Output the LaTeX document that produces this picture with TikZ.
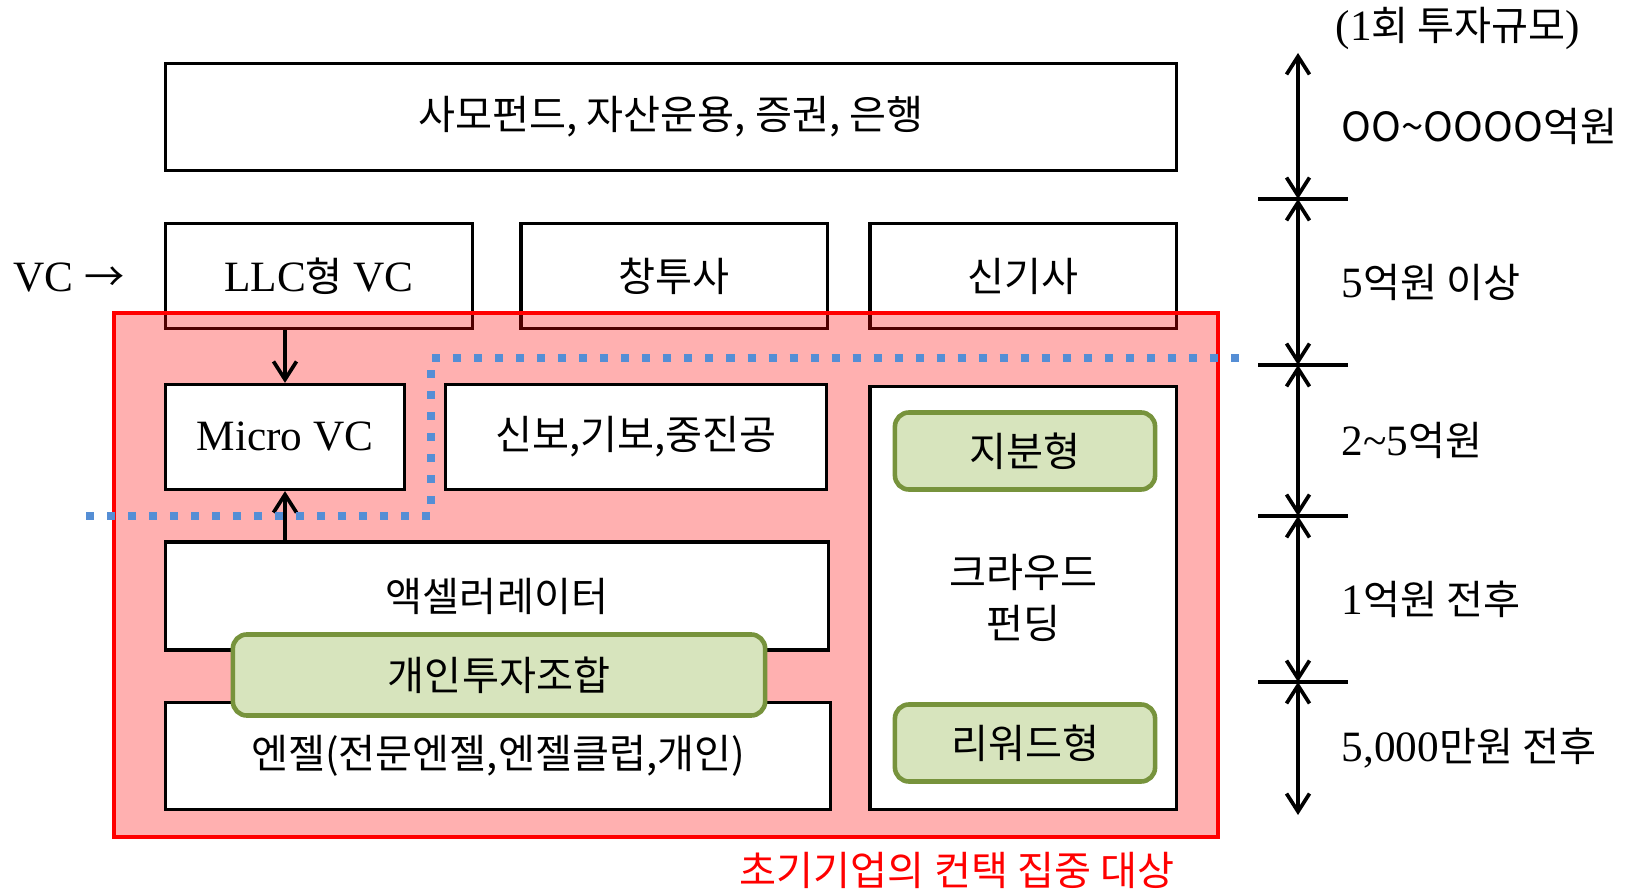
\documentclass[tikz,border=0pt]{standalone}
\usepackage{fontspec}
\setmainfont{Liberation Serif}
\newfontfamily\kr{Noto Sans CJK KR}[Scale=0.93]
\usetikzlibrary{arrows.meta}
\definecolor{leaf}{HTML}{77933C}
\definecolor{leaffill}{HTML}{D7E4BD}
\definecolor{cutblue}{HTML}{558ED5}

\begin{document}
\begin{tikzpicture}[x=0.01cm, y=-0.01cm, >={Straight Barb[length=1.8mm,width=2.3mm]},
  font=\fontsize{12.3}{14}\selectfont,
  box/.style={draw, line width=0.9pt, fill=white, inner sep=0pt, minimum height=1.05cm},
  fund/.style={draw=leaf, line width=1.3pt, fill=leaffill, rounded corners=4pt, inner sep=0pt},
  focus/.style={draw=red, line width=1.2pt, fill=red, fill opacity=0.31,
    minimum width=11.04cm, minimum height=5.23cm},
  cut/.style={draw=cutblue, line width=2.2pt, dash pattern=on 0.08cm off 0.13cm},
  ruler/.style={line width=1.05pt}]

\useasboundingbox (0,0) rectangle (1628,892);

\node [box, minimum width=10.10cm, minimum height=1.07cm] (pef) at (671,117)
  {\kr 사모펀드, 자산운용, 증권, 은행};

\foreach \n/\x/\t in {llc/319/{LLC{\kr 형} VC}, vcco/674/{\kr 창투사}, nte/1023/{\kr 신기사}}
  \node [box, minimum width=3.06cm] (\n) at (\x,276) {\t};

\node [focus] (target) at (666,575) {};

\node [box, minimum width=2.39cm] (micro) at (285,437) {Micro VC};
\node [box, minimum width=3.80cm] (guarantee) at (636,437) {\kr 신보,기보,중진공};
\node [box, minimum width=3.06cm, minimum height=4.23cm, align=center,
  font=\fontsize{12.3}{14.5}\selectfont\kr] (crowd) at (1023,598) {크라우드\\펀딩};
\node [box, minimum width=6.62cm, minimum height=1.08cm] (accel) at (497,596) {\kr 액셀러레이터};
\node [box, minimum width=6.65cm, minimum height=1.07cm] (angel) at (498,756)
  {\kr 엔젤(전문엔젤,엔젤클럽,개인)};
\node [fund, minimum width=5.32cm, minimum height=0.81cm] (club) at (499,675) {\kr 개인투자조합};

\foreach \n/\y/\t in {equity/451/지분형, reward/743/리워드형}
  \node [fund, minimum width=2.60cm, minimum height=0.77cm] (\n) at (1025,\y) {\kr \t};

\draw [->, ruler] (micro.north |- llc.south) -- (micro.north);
\draw [->, ruler] (micro.south |- accel.north) -- (micro.south);

\coordinate (cut-w) at (86,516);
\coordinate (cut-e) at (1244,358);
\draw [cut] (cut-w) -- (431,516) -- (431,358) -- (cut-e);

\node [anchor=west, inner sep=0pt] (vc) at (13,278) {VC {\kr →}};

\node [anchor=west, inner sep=0pt] (head) at (1335,28) {(1{\kr 회 투자규모})};

\foreach \y [count=\i from 0] in {53,199,365,516,682,815}
  \coordinate (level-\i) at (1298,\y);

\foreach \i in {1,...,4}
  \draw [ruler] (level-\i) ++(-40,0) -- ++(90,0);

\foreach \t [count=\j] in {{\kr OO\textasciitilde OOOO억원}, 5{\kr 억원 이상},
    2\textasciitilde 5{\kr 억원}, 1{\kr 억원 전후}, {5,000{\kr 만원 전후}}} {
  \pgfmathtruncatemacro\i{\j-1}
  \draw [<->, ruler] (level-\i) -- (level-\j)
    node [midway, right=0.42cm, inner sep=0pt] {\t};
}

\node [text=red] (caption) at (957,870) {\kr 초기기업의 컨택 집중 대상};

\end{tikzpicture}
\end{document}
